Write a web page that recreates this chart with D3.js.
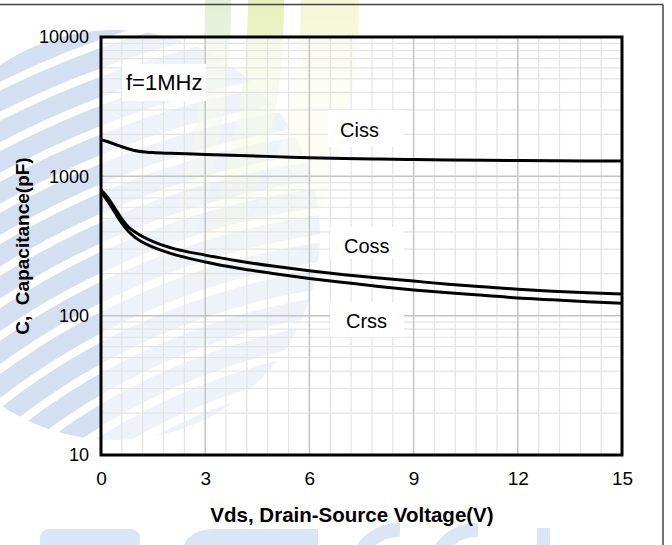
<!DOCTYPE html>
<html><head><meta charset="utf-8">
<script src="https://cdn.jsdelivr.net/npm/d3@7"></script>
<style>body{margin:0;background:#fff}svg{display:block}text{font-family:"Liberation Sans",Arial,sans-serif;white-space:pre}</style>
</head><body>
<svg id="c" width="672" height="545"></svg>
<script>
// ---- data ----
const vds  = [0,0.2,0.4,0.6,0.8,1,1.5,2,3,4,5,6,7,8,9,10,11,12,13,14,15];
const ciss = [1836,1770,1700,1630,1570,1525,1480,1462,1435,1410,1385,1360,1342,1330,1320,1312,1305,1300,1295,1291,1288];
const coss = [800,700,590,495,430,395,340,308,272,246,226,210,197,186,177,168,161,155,150,146,143];
const crss = [770,660,550,462,400,362,310,280,243,218,200,185,173,162,153,146,140,134,130,126,123];
const xTicks = [0,3,6,9,12,15];
const yTicks = [10,100,1000,10000];
const seriesNames = ["Ciss","Coss","Crss"];
const freqLabel = "f=1MHz";
const xTitle = "Vds, Drain-Source Voltage(V)";
const yTitle = "C,  Capacitance(pF)";

const svg = d3.select("#c");
const L=101, R=622, T=37, B=455;
const x = d3.scaleLinear().domain([0,15]).range([L,R]);
const y = d3.scaleLog().domain([10,10000]).range([B,T]);

// ---- watermark decoration ----
const defs = svg.append("defs");
const fadeV = defs.append("linearGradient").attr("id","fadeV").attr("x1",0).attr("y1",0).attr("x2",0).attr("y2",1);
fadeV.append("stop").attr("offset","0").attr("stop-color","#fff").attr("stop-opacity",1);
fadeV.append("stop").attr("offset","0.4").attr("stop-color","#fff").attr("stop-opacity",0.6);
fadeV.append("stop").attr("offset","1").attr("stop-color","#fff").attr("stop-opacity",0);
const maskV = defs.append("mask").attr("id","mV");
maskV.append("rect").attr("x",0).attr("y",0).attr("width",672).attr("height",320).attr("fill","url(#fadeV)");
const clipG = defs.append("clipPath").attr("id","cG");
clipG.append("circle").attr("cx",115).attr("cy",235).attr("r",205);
const wm = svg.append("g");
const arcs = wm.append("g").attr("clip-path","url(#cG)");
d3.range(560, 980, 27).forEach(r=>{
  arcs.append("circle").attr("cx",420).attr("cy",940).attr("r",r)
    .attr("fill","none").attr("stroke","#d4e0f1").attr("stroke-width",19);
});
const gy = wm.append("g").attr("mask","url(#mV)").attr("fill","none");
gy.append("ellipse").attr("cx",0).attr("cy",0).attr("rx",218).attr("ry",430).attr("stroke","#e4f0d6").attr("stroke-width",26);
gy.append("ellipse").attr("cx",0).attr("cy",0).attr("rx",266).attr("ry",430).attr("stroke","#e8f1bc").attr("stroke-width",36);
gy.append("ellipse").attr("cx",0).attr("cy",0).attr("rx",330).attr("ry",430).attr("stroke","#f5f7d6").attr("stroke-width",58);
const bl = wm.append("g").attr("fill","#dae5f5");
bl.append("rect").attr("x",40).attr("y",529).attr("width",100).attr("height",40).attr("rx",9);
bl.append("path").attr("d","M180,560 Q182,529 215,529 L318,529 L318,545 L180,545 Z");
wm.append("path").attr("d","M358,560 A42,42 0 0 1 400,530").attr("fill","none").attr("stroke","#dae5f5").attr("stroke-width",14);
wm.append("path").attr("d","M436,560 A42,42 0 0 1 478,530").attr("fill","none").attr("stroke","#dae5f5").attr("stroke-width",14);
bl.append("rect").attr("x",537).attr("y",528).attr("width",13).attr("height",20);

// plot area veil
svg.append("rect").attr("x",L).attr("y",T).attr("width",R-L).attr("height",B-T).attr("fill","#fff").attr("opacity",0.6);

// ---- grid ----
const grid = svg.append("g");
const minorX = d3.range(1,25).map(i=>i*0.6).filter(v=>Math.abs(v/3-Math.round(v/3))>1e-6);
grid.selectAll(".mx").data(minorX).enter().append("line")
  .attr("x1",d=>x(d)).attr("x2",d=>x(d)).attr("y1",T).attr("y2",B)
  .attr("stroke","#e4e4e4").attr("stroke-width",1.2);
const minorY = [];
[10,100,1000].forEach(dec=>{ for(let k=2;k<=9;k++) minorY.push(dec*k); });
grid.selectAll(".my").data(minorY).enter().append("line")
  .attr("x1",L).attr("x2",R).attr("y1",d=>y(d)).attr("y2",d=>y(d))
  .attr("stroke","#e4e4e4").attr("stroke-width",1.2);
grid.selectAll(".Mx").data(xTicks.slice(1,-1)).enter().append("line")
  .attr("x1",d=>x(d)).attr("x2",d=>x(d)).attr("y1",T).attr("y2",B)
  .attr("stroke","#c4c4c4").attr("stroke-width",1.5);
grid.selectAll(".My").data(yTicks.slice(1,-1)).enter().append("line")
  .attr("x1",L).attr("x2",R).attr("y1",d=>y(d)).attr("y2",d=>y(d))
  .attr("stroke","#c4c4c4").attr("stroke-width",1.5);

// ---- label boxes ----
const boxes = svg.append("g").attr("fill","#fff");
boxes.append("rect").attr("x",122).attr("y",64).attr("width",84).attr("height",37);
boxes.append("rect").attr("x",328).attr("y",110).attr("width",76).attr("height",37);
boxes.append("rect").attr("x",330).attr("y",227).attr("width",74).attr("height",32);
boxes.append("rect").attr("x",330).attr("y",302).attr("width",74).attr("height",35);

// ---- curves ----
const line = d3.line().x((d,i)=>x(vds[i])).y(d=>y(d)).curve(d3.curveMonotoneX);
[ciss,coss,crss].forEach(s=>{
  svg.append("path").datum(s).attr("d",line).attr("fill","none")
    .attr("stroke","#000").attr("stroke-width",3);
});

// ---- frame ----
svg.append("rect").attr("x",L).attr("y",T).attr("width",R-L).attr("height",B-T)
  .attr("fill","none").attr("stroke","#000").attr("stroke-width",3);

// ---- axes ----
const xa = svg.append("g").attr("transform",`translate(0,${B})`)
  .call(d3.axisBottom(x).tickValues(xTicks).tickSize(0).tickPadding(17).tickFormat(d3.format("d")));
xa.select(".domain").remove();
xa.selectAll("text").attr("font-size",19).attr("fill","#000").style("font-family","'Liberation Sans',Arial,sans-serif");
const ya = svg.append("g").attr("transform",`translate(${L},0)`)
  .call(d3.axisLeft(y).tickValues(yTicks).tickSize(0).tickPadding(12).tickFormat(d3.format("d")));
ya.select(".domain").remove();
ya.selectAll("text").attr("font-size",18).attr("fill","#000").style("font-family","'Liberation Sans',Arial,sans-serif");

// ---- texts ----
svg.append("text").attr("x",126).attr("y",90).attr("font-size",22).text(freqLabel);
const lab = [[340,137],[344,253],[346,328]];
seriesNames.forEach((n,i)=>{
  svg.append("text").attr("x",lab[i][0]).attr("y",lab[i][1]).attr("font-size",20).text(n);
});
svg.append("text").attr("x",352).attr("y",522).attr("text-anchor","middle")
  .attr("font-size",20.5).attr("font-weight","bold").text(xTitle);
svg.append("text").attr("transform",`translate(29,${(T+B)/2}) rotate(-90)`).attr("text-anchor","middle")
  .attr("font-size",19).attr("font-weight","bold").text(yTitle);

// ---- outer border ----
svg.append("line").attr("x1",0).attr("x2",663).attr("y1",4.5).attr("y2",4.5).attr("stroke","#444").attr("stroke-width",1.5);
svg.append("line").attr("x1",663).attr("x2",663).attr("y1",4.5).attr("y2",545).attr("stroke","#444").attr("stroke-width",1.5);
</script>
</body></html>
